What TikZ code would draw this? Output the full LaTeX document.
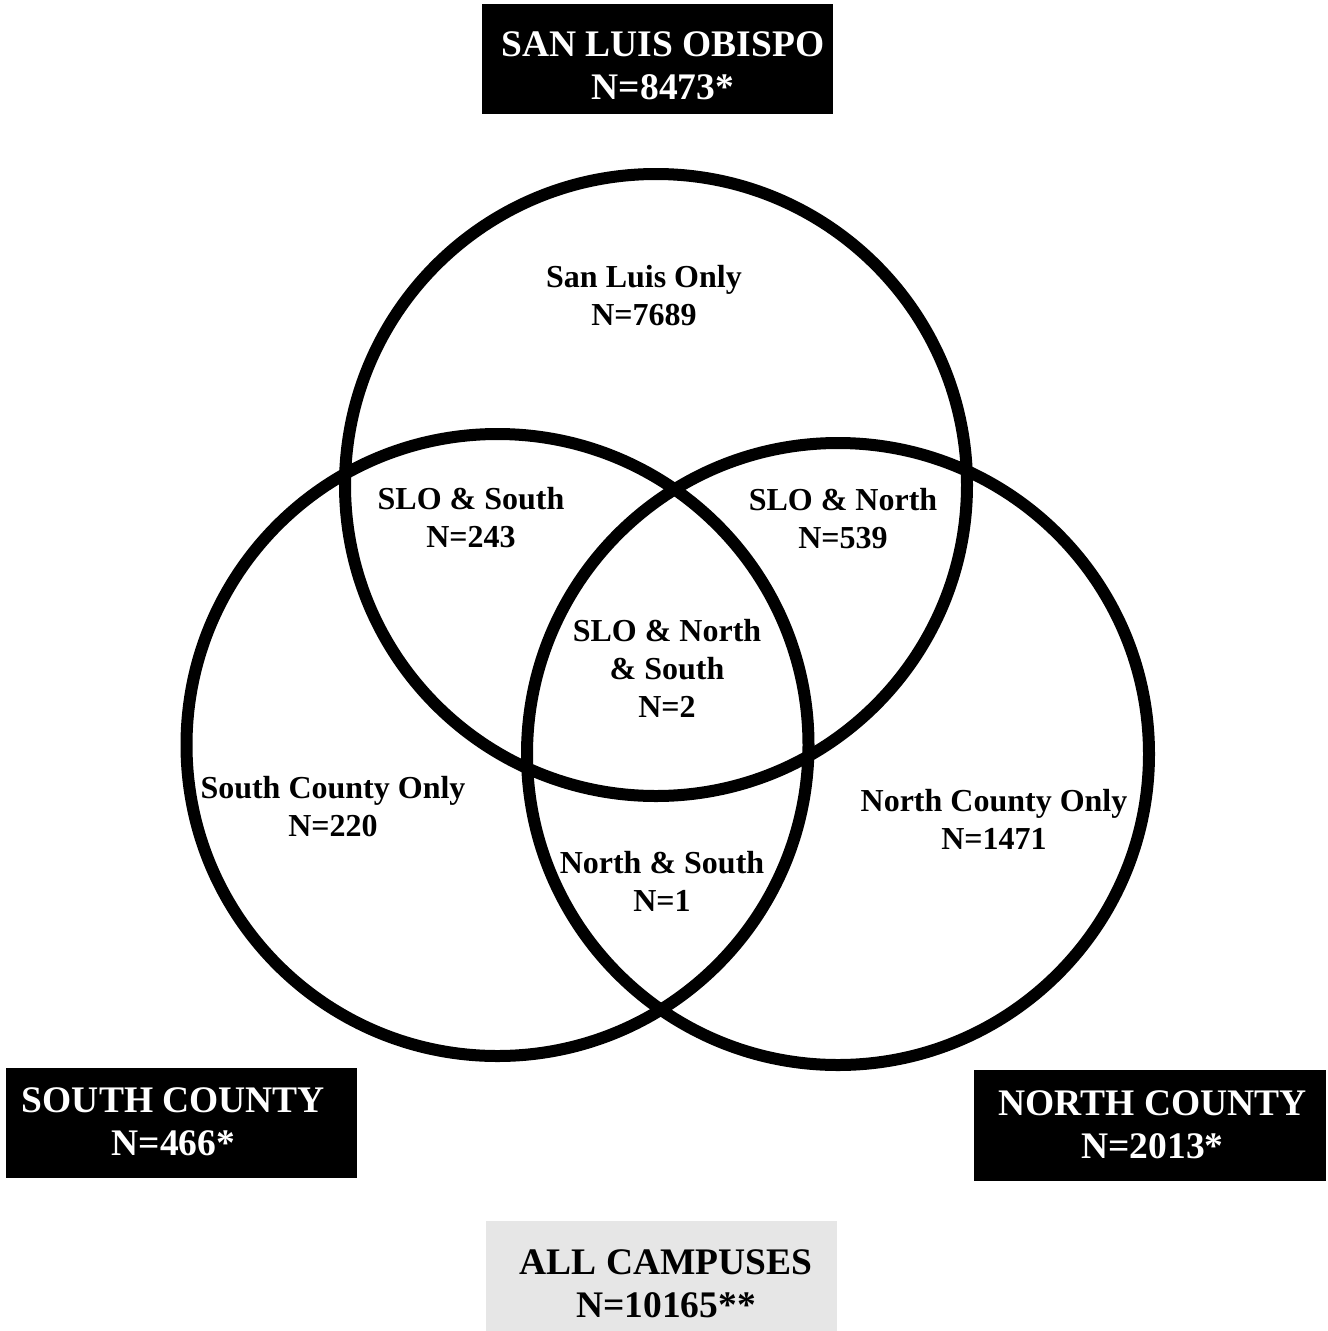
\documentclass[tikz,border=0pt]{standalone}
\usepackage{fontspec}
\setmainfont{Liberation Serif}
\definecolor{allgray}{HTML}{E6E6E6}
\begin{document}
\begin{tikzpicture}[x=1pt,y=-1pt,
  ring/.style={line width=12pt},
  lbl/.style={font=\bfseries\fontsize{32}{38}\selectfont, align=center, inner sep=0pt},
  boxtext/.style={font=\bfseries\fontsize{37.5}{43.5}\selectfont, align=center, inner sep=0pt},
  darkbox/.style={fill=black, draw=none, minimum width=351pt, minimum height=110pt, inner sep=0pt},
  lightbox/.style={fill=allgray, draw=none, minimum width=351pt, minimum height=110pt, inner sep=0pt}]
\useasboundingbox (0,0) rectangle (1328,1331);
% circles
\coordinate (slo) at (656,485);
\coordinate (south) at (497.5,745);
\coordinate (north) at (838,754);
\draw[ring] (slo) circle[radius=311pt];
\draw[ring] (south) circle[radius=311pt];
\draw[ring] (north) circle[radius=311pt];
% boxes
\node[darkbox] (sloBox) at (657.5,58.5) {};
\node[boxtext, text=white] (sloText) at (663,66) {SAN LUIS OBISPO\\N=8473*};
\node[darkbox] (southBox) at (181.5,1123) {};
\node[boxtext, text=white] (southText) at (173.5,1122) {SOUTH COUNTY\\N=466*};
\node[darkbox, minimum width=352pt, minimum height=111pt] (northBox) at (1150,1125.5) {};
\node[boxtext, text=white] (northText) at (1152.5,1125) {NORTH COUNTY\\N=2013*};
\node[lightbox] (allBox) at (661.5,1276) {};
\node[boxtext] (allText) at (666,1284) {ALL CAMPUSES\\N=10165**};
% region labels
\node[lbl] (sloOnly) at (644,296) {San Luis Only\\N=7689};
\node[lbl] (sloSouth) at (471,517.5) {SLO \& South\\N=243};
\node[lbl] (sloNorth) at (843,519) {SLO \& North\\N=539};
\node[lbl] (allThree) at (667,668) {SLO \& North\\\& South\\N=2};
\node[lbl] (southOnly) at (333,807) {South County Only\\N=220};
\node[lbl] (northOnly) at (994,819.5) {North County Only\\N=1471};
\node[lbl] (northSouth) at (662,881) {North \& South\\N=1};
\end{tikzpicture}
\end{document}
